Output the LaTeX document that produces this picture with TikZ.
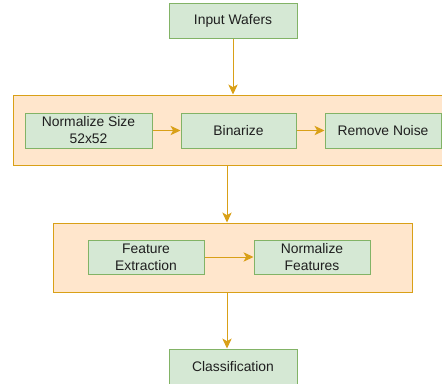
\documentclass[tikz,border=0pt]{standalone}
\usepackage{fontspec}
\setmainfont{Liberation Sans}
\usetikzlibrary{arrows.meta}
\definecolor{gfill}{HTML}{D5E8D4}
\definecolor{gline}{HTML}{82B366}
\definecolor{ofill}{HTML}{FFE6CC}
\definecolor{oline}{HTML}{D9A017}
\def\u{0.75pt}
\begin{document}
\begin{tikzpicture}[x=0.75pt,y=-0.75pt,
  box/.style={rectangle,draw=gline,fill=gfill,line width=0.75pt,inner sep=0pt,align=center,
    font=\fontsize{10.4}{12.75}\selectfont,text=black!88},
  group/.style={rectangle,draw=oline,fill=ofill,line width=0.75pt,inner sep=0pt},
  arr/.style={draw=oline,line width=0.75pt,-{Stealth[length=7.5pt,width=7pt,inset=2pt]}}]
\useasboundingbox (0,0) rectangle (442,383);
\node[group,minimum width=455*\u,minimum height=70*\u] (c1) at (240.5,130) {};
\node[group,minimum width=359*\u,minimum height=69*\u] (c2) at (232.5,257.5) {};
\node[box,minimum width=128*\u,minimum height=35*\u] (in) at (233,20.5) {Input Wafers};
\node[box,minimum width=127*\u,minimum height=35*\u] (ns) at (88.5,130.5) {Normalize Size\\52x52};
\node[box,minimum width=115*\u,minimum height=35*\u] (bin) at (238.5,130.5) {Binarize};
\node[box,minimum width=116*\u,minimum height=35*\u] (rn) at (383,130.5) {Remove Noise};
\node[box,minimum width=116*\u,minimum height=34*\u] (fe) at (146,257) {Feature\\Extraction};
\node[box,minimum width=116*\u,minimum height=34*\u] (nf) at (312,257) {Normalize\\Features};
\node[box,minimum width=128*\u,minimum height=35*\u] (cls) at (233,366.5) {Classification};
\coordinate (ax) at (227,0);
\draw[arr] (in.south) -- (in.south |- c1.north);
\draw[arr] (ns) -- (bin);
\draw[arr] (bin) -- (rn);
\draw[arr] (ax |- c1.south) -- (ax |- c2.north);
\draw[arr] (fe) -- (nf);
\draw[arr] (ax |- c2.south) -- (ax |- cls.north);
\end{tikzpicture}
\end{document}
